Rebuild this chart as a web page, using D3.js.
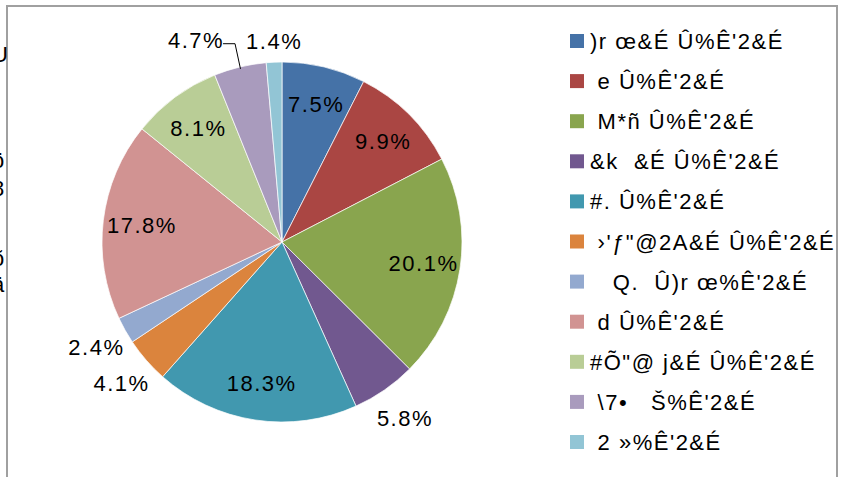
<!DOCTYPE html>
<html>
<head>
<meta charset="utf-8">
<script src="https://cdn.jsdelivr.net/npm/d3@7"></script>
<style>
  html, body { margin: 0; padding: 0; background: #fff; }
  svg { display: block; font-family: Arial, "Liberation Sans", sans-serif; }
  .legend text, .edge text { white-space: pre; }
</style>
</head>
<body>
<div id="chart"></div>
<script>
// slice data, clockwise from 12 o'clock
const categories = [
    ")r œ&É Û%Ê'2&É",
    " e Û%Ê'2&É",
    " M*ñ Û%Ê'2&É",
    "&k  &É Û%Ê'2&É",
    "#. Û%Ê'2&É",
    " ›'ƒ\"@2A&É Û%Ê'2&É",
    "   Q.  Û)r œ%Ê'2&É",
    " d Û%Ê'2&É",
    "#Õ\"@ j&É Û%Ê'2&É",
    " \\7•   Š%Ê'2&É",
    " 2 »%Ê'2&É"
];
const values = [7.5, 9.9, 20.1, 5.8, 18.3, 4.1, 2.4, 17.8, 8.1, 4.7, 1.4];
const colours = ["#4572A7", "#AA4643", "#89A54E", "#71588F", "#4198AF", "#DB843D",
    "#93A9CF", "#D19392", "#B9CD96", "#A99BBD", "#92C5D5"];

// text cut off on the left edge of the frame
const edgeGlyphs = ["U", "I", "ö", "8", "õ", "ä"];

const W = 842, H = 477;
const cx = 282, cy = 242, R = 180;
const FONT = "22px", SPACING = "1.5px";

// label placement: inside labels at 0.79R, outside ones further out
const outside = {3: 1.19, 5: 1.19, 6: 1.19, 9: 1.19, 10: 1.12};
const shift = {9: [-37, 6]};   // 4.7% is pulled left with a leader line

const svg = d3.select("#chart").append("svg")
    .attr("width", W)
    .attr("height", H);

// frame
svg.append("rect")
    .attr("x", 7).attr("y", 6)
    .attr("width", 830).attr("height", H + 10)
    .attr("fill", "none")
    .attr("stroke", "#a0a0a0")
    .attr("stroke-width", 2);

const edge = svg.append("g").attr("class", "edge");
edge.selectAll("text")
    .data(edgeGlyphs)
    .enter()
    .append("text")
    .attr("x", -8)
    .attr("y", (d, i) => [62, 116, 168, 196, 266, 292][i])
    .style("font-size", "22px")
    .text(d => d);

const pie = d3.pie().sort(null).value(d => d);
const arcs = pie(values);
const arc = d3.arc().innerRadius(0).outerRadius(R);

const g = svg.append("g").attr("transform", `translate(${cx},${cy})`);

g.selectAll(".slice")
    .data(arcs)
    .enter()
    .append("path")
    .attr("class", "slice")
    .attr("d", arc)
    .attr("fill", (d, i) => colours[i])
    .attr("stroke", "#fff")
    .attr("stroke-width", 0.7);

function labelPos(d, i) {
    const mid = (d.startAngle + d.endAngle) / 2;
    const r = R * (outside[i] || 0.79);
    let x = r * Math.sin(mid), y = -r * Math.cos(mid);
    if (shift[i]) { x += shift[i][0]; y += shift[i][1]; }
    return [x, y];
}

// leader lines for shifted labels
arcs.forEach((d, i) => {
    if (!shift[i]) return;
    const [lx, ly] = labelPos(d, i);
    const mid = (d.startAngle + d.endAngle) / 2;
    const ex = (R - 2) * Math.sin(mid), ey = -(R - 2) * Math.cos(mid);
    g.append("path")
        .attr("d", d3.line()([[lx + 28, ly + 4], [lx + 40, ly + 4], [ex, ey]]))
        .attr("fill", "none")
        .attr("stroke", "#000")
        .attr("stroke-width", 1);
});

g.selectAll(".pct")
    .data(arcs)
    .enter()
    .append("text")
    .attr("class", "pct")
    .attr("x", (d, i) => labelPos(d, i)[0] + 1)
    .attr("y", (d, i) => labelPos(d, i)[1])
    .attr("text-anchor", "middle")
    .attr("dy", "0.36em")
    .style("font-size", FONT)
    .style("letter-spacing", SPACING)
    .text(d => d3.format(".1f")(d.data) + "%");

// legend
const legend = svg.append("g").attr("class", "legend")
    .attr("transform", "translate(570,41)");
const row = legend.selectAll("g")
    .data(categories)
    .enter()
    .append("g")
    .attr("transform", (d, i) => `translate(0,${i * 40.1})`);

row.append("rect")
    .attr("x", 0).attr("y", -7)
    .attr("width", 14).attr("height", 14)
    .attr("fill", (d, i) => colours[i]);

row.append("text")
    .attr("x", 20)
    .attr("y", 8)
    .style("font-size", FONT)
    .style("letter-spacing", SPACING)
    .text(d => d);
</script>
</body>
</html>
